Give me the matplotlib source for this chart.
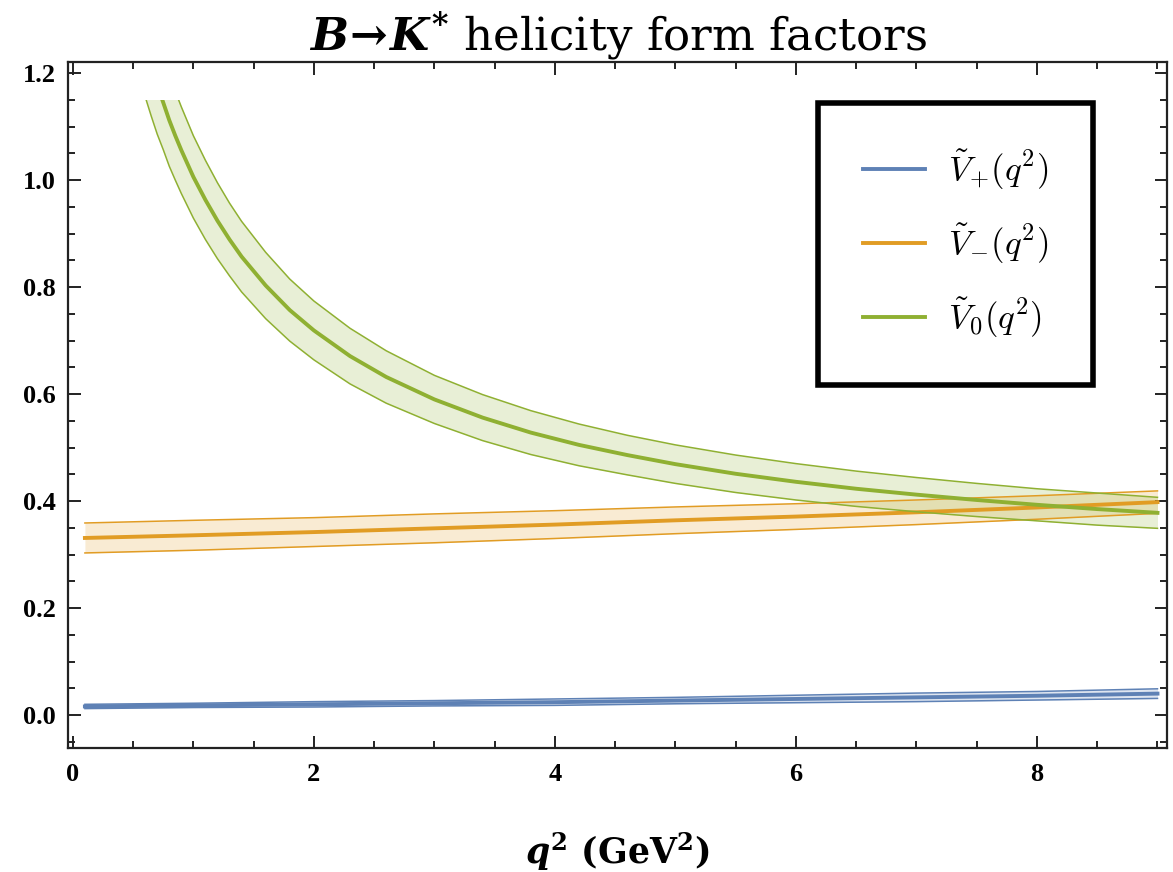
import numpy as np
import matplotlib
matplotlib.use("Agg")
import matplotlib.pyplot as plt
from matplotlib.patches import Rectangle
from matplotlib.ticker import MultipleLocator
from matplotlib.font_manager import FontProperties

plt.rcParams['mathtext.fontset'] = 'custom'
plt.rcParams['mathtext.rm'] = 'DejaVu Serif:bold'
plt.rcParams['mathtext.it'] = 'DejaVu Serif:bold:italic'
plt.rcParams['mathtext.bf'] = 'DejaVu Serif:bold'

# Datos
q2 = [0.1, 1, 2, 3, 4, 5, 6, 7, 8, 9]
vplus = [0.016, 0.018, 0.020, 0.022, 0.024, 0.027, 0.030, 0.033, 0.036, 0.040]
vplus_err = [0.004, 0.004, 0.005, 0.005, 0.006, 0.006, 0.007, 0.008, 0.008, 0.009]
vminus = [0.331, 0.336, 0.342, 0.349, 0.356, 0.364, 0.371, 0.379, 0.388, 0.398]
vminus_err = [0.028, 0.028, 0.027, 0.027, 0.026, 0.025, 0.024, 0.023, 0.022, 0.021]

q2_v0 = [0.6, 0.65, 0.7, 0.75, 0.8, 0.85, 0.9, 1.0, 1.1, 1.2, 1.3, 1.4, 1.6, 1.8,
         2.0, 2.3, 2.6, 3.0, 3.4, 3.8, 4.2, 4.6, 5.0, 5.5, 6.0, 6.5, 7.0, 7.5,
         8.0, 8.5, 9.0]
v0 = [1.252, 1.213, 1.177, 1.145, 1.112, 1.083, 1.056, 1.006, 0.963, 0.924, 0.889,
      0.857, 0.803, 0.757, 0.719, 0.671, 0.632, 0.590, 0.556, 0.528, 0.505, 0.486,
      0.469, 0.451, 0.436, 0.423, 0.412, 0.402, 0.393, 0.385, 0.378]
v0_lo = [1.156, 1.120, 1.086, 1.057, 1.026, 1.000, 0.975, 0.929, 0.889, 0.853, 0.821,
         0.791, 0.741, 0.699, 0.664, 0.619, 0.583, 0.545, 0.513, 0.487, 0.466, 0.449,
         0.433, 0.416, 0.402, 0.390, 0.380, 0.371, 0.363, 0.355, 0.349]
v0_hi = [1.348, 1.306, 1.268, 1.233, 1.198, 1.166, 1.137, 1.083, 1.037, 0.995, 0.957,
         0.923, 0.865, 0.815, 0.774, 0.723, 0.681, 0.635, 0.599, 0.569, 0.544, 0.523,
         0.505, 0.486, 0.470, 0.456, 0.444, 0.433, 0.423, 0.415, 0.407]

azul = '#5E81B5'
naranja = '#E19C24'
verde = '#8FB032'

fig = plt.figure(figsize=(11.73, 8.72), dpi=100)
ax = fig.add_axes([0.058, 0.142, 0.937, 0.787])

# recorte de las curvas en 1.15 como en el original
clip = Rectangle((-1, -1), 20, 2.15, transform=ax.transData, visible=False)
ax.add_patch(clip)

def banda(x, c, lo, hi, color, label):
    artists = []
    artists.append(ax.fill_between(x, lo, hi, color=color, alpha=0.2, lw=0))
    artists += ax.plot(x, lo, color=color, lw=1.1)
    artists += ax.plot(x, hi, color=color, lw=1.1)
    artists += ax.plot(x, c, color=color, lw=2.8, label=label)
    for a in artists:
        a.set_clip_path(clip)

vp = np.array(vplus); vpe = np.array(vplus_err)
vm = np.array(vminus); vme = np.array(vminus_err)
banda(q2, vp, vp - vpe, vp + vpe, azul, r'$\tilde{V}_{+}(q^2)$')
banda(q2, vm, vm - vme, vm + vme, naranja, r'$\tilde{V}_{-}(q^2)$')
banda(q2_v0, v0, v0_lo, v0_hi, verde, r'$\tilde{V}_{0}(q^2)$')

ax.set_xlim(-0.04, 9.08)
ax.set_ylim(-0.062, 1.221)

ax.xaxis.set_major_locator(MultipleLocator(2))
ax.xaxis.set_minor_locator(MultipleLocator(0.5))
ax.yaxis.set_major_locator(MultipleLocator(0.2))
ax.yaxis.set_minor_locator(MultipleLocator(0.05))
ax.tick_params(which='both', direction='in', top=True, right=True, width=1.4,
               color='#222222', labelcolor='black')
ax.tick_params(which='major', length=9)
ax.tick_params(which='minor', length=5)
ax.tick_params(axis='x', pad=11)
ax.tick_params(axis='y', pad=9)
for s in ax.spines.values():
    s.set_linewidth(1.6)
    s.set_color('#222222')

ax.set_xticks([0, 2, 4, 6, 8])
ax.set_xticklabels(['0', '2', '4', '6', '8'])
ax.set_yticks([0.0, 0.2, 0.4, 0.6, 0.8, 1.0, 1.2])
ax.set_yticklabels(['0.0', '0.2', '0.4', '0.6', '0.8', '1.0', '1.2'])
for lbl in ax.get_xticklabels() + ax.get_yticklabels():
    lbl.set_fontfamily('Liberation Serif')
    lbl.set_fontweight('bold')
    lbl.set_fontsize(19)

ax.set_xlabel(r'$q^2$ (GeV$^2$)', fontfamily='DejaVu Serif', fontweight='bold',
              fontsize=25, labelpad=32)
ax.set_title(r'$B\!\rightarrow\!K^{*}$ helicity form factors', fontfamily='DejaVu Serif',
             fontsize=32.5, pad=6)

prop = FontProperties(family='DejaVu Serif', size=25, math_fontfamily='cm')
leg = ax.legend(loc='upper right', bbox_to_anchor=(0.933, 0.940), prop=prop,
                frameon=True, fancybox=False, edgecolor='black', framealpha=1,
                handlelength=1.8, handletextpad=0.65, labelspacing=0.85,
                borderpad=1.3, borderaxespad=0)
leg.get_frame().set_linewidth(4)

fig.savefig('out.png', dpi=100)
